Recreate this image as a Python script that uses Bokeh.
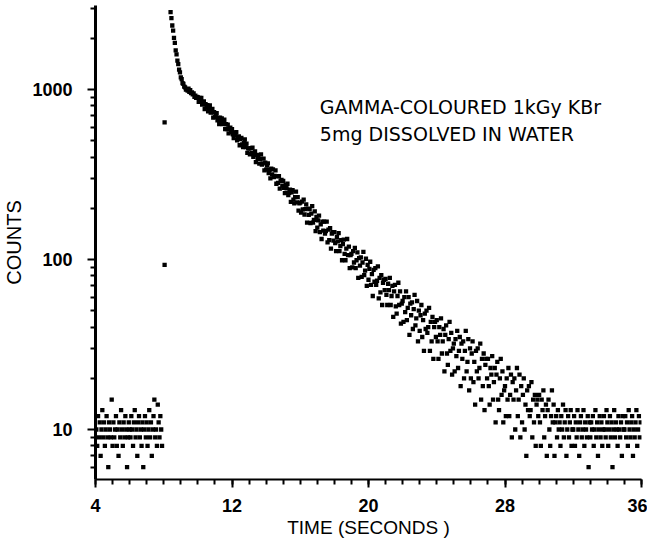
from bokeh.plotting import figure
from bokeh.models import Range1d, FixedTicker, BasicTickFormatter, Label
from bokeh.embed import file_html
from bokeh.resources import INLINE

# ---------------- data ----------------
channel_width = 0.05          # seconds per scaler channel

# background before the flash, channels from 4.05 s
pre_start = 4.05
pre_counts = [
    10, 8, 12, 9, 11, 7, 10, 13, 9, 11, 8, 10, 12, 9, 6, 11, 10, 9, 15, 8,
    11, 9, 10, 12, 8, 10, 7, 11, 9, 13, 10, 8, 11, 9, 12, 10, 6, 9, 11, 10,
    9, 12, 10, 8, 11, 13, 9, 10, 7, 11, 12, 9, 10, 8, 11, 6, 10, 12, 9, 11,
    8, 10, 13, 9, 11, 7, 10, 12, 15, 9, 10, 8, 14, 11, 9, 12, 10, 8,
]

# two isolated points at the flash
flash_times = [8.05, 8.05]
flash_counts = [640, 93]

# afterglow decay, channels from 8.40 s
decay_start = 8.40
decay_counts = [
    2850, 2630, 2380, 2220, 2010, 1880, 1700, 1610, 1480, 1410, 1310, 1260, 1180, 1150, 1090, 1080, 1040, 1030, 1000,
    1005, 985, 1010, 968, 990, 952, 960, 938, 949, 905, 921, 893, 905,
    898, 846, 892, 849, 892, 815, 833, 852, 766, 819, 787, 809, 744, 777, 807, 732, 737, 768, 684, 735,
    688, 712, 727, 659, 681, 626, 683, 646, 676, 626, 631, 664, 585, 625, 585, 621, 552, 592, 596, 564,
    584, 545, 518, 556, 539, 562, 503, 515, 529, 470, 510, 519, 475, 458, 484, 508, 459, 480, 424, 450,
    451, 416, 451, 422, 455, 402, 417, 433, 374, 413, 393, 410, 366, 391, 415, 362, 368, 392, 334, 371,
    338, 357, 368, 322, 337, 300, 342, 317, 339, 305, 310, 334, 279, 308, 282, 309, 261, 290, 294, 272,
    290, 264, 246, 274, 262, 279, 239, 247, 258, 218, 248, 256, 225, 214, 233, 251, 217, 233, 194, 214,
    216, 189, 219, 197, 225, 184, 198, 211, 165, 199, 183, 198, 164, 186, 206, 165, 171, 192, 147, 178,
    154, 170, 181, 145, 161, 132, 167, 148, 167, 142, 147, 167, 126, 150, 130, 153, 116, 142, 145, 129,
    145, 125, 112, 136, 128, 143, 112, 120, 130, 99, 123, 131, 108, 99, 116, 132, 106, 119, 89, 106,
    108, 90, 112, 96, 117, 89, 99, 110, 78, 102, 92, 103, 79, 96, 111, 81, 86, 101, 70, 93,
    76, 88, 97, 71, 82, 61, 87, 74, 89, 71, 75, 91, 59, 78, 64, 81, 54, 73, 76, 66,
    77, 62, 54, 72, 66, 78, 54, 61, 70, 46, 65, 71, 53, 48, 61, 73, 54, 65, 42, 55,
    57, 43, 60, 49, 65, 44, 52, 60, 36, 55, 47, 56, 39, 51, 62, 41, 45, 57, 33, 50,
    38, 47, 54, 35, 44, 29, 48, 39, 50, 37, 40, 52, 29, 43, 33, 46, 26, 40, 43, 35,
    44, 33, 26, 40, 36, 45, 28, 33, 39, 22, 36, 41, 28, 24, 34, 43, 29, 37, 21, 30,
    32, 22, 34, 27, 38, 23, 29, 35, 18, 32, 26, 33, 20, 29, 38, 22, 25, 34, 17, 30,
    20, 28, 33, 19, 25, 14, 29, 22, 30, 20, 23, 32, 15, 26, 18, 28, 13, 24, 26, 20,
    26, 18, 14, 23, 21, 27, 15, 19, 23, 11, 21, 25, 15, 13, 20, 26, 16, 22, 11, 17,
    18, 12, 20, 15, 23, 12, 16, 21, 9, 19, 15, 20, 10, 17, 23, 12, 15, 21, 9, 18,
    11, 16, 20, 10, 14, 7, 17, 13, 18, 12, 13, 19, 9, 15, 11, 16, 8, 14, 15, 12,
    16, 11, 8, 15, 13, 17, 9, 12, 14, 7, 13, 15, 10, 8, 12, 17, 11, 14, 7, 11,
    12, 9, 13, 10, 11, 8, 12, 10, 14, 9, 11, 13, 7, 10, 12, 9, 11, 13, 8, 10,
    10, 12, 8, 11, 9, 13, 10, 7, 11, 12, 9, 10, 13, 8, 11, 10, 9, 12, 6, 11,
    9, 11, 10, 12, 8, 10, 13, 9, 11, 7, 10, 12, 9, 11, 8, 10, 12, 10, 9, 13,
    11, 8, 10, 12, 9, 11, 6, 10, 13, 9, 11, 10, 8, 12, 10, 9, 11, 7, 12, 10,
    10, 12, 9, 11, 8, 13, 10, 9, 11, 12, 7, 10, 9, 11, 13, 8, 10, 12, 9, 11,
]

x_major = [4, 12, 20, 28, 36]
x_minor = list(range(4, 37))
y_major = [10, 100, 1000]
y_minor = [6, 7, 8, 9, 20, 30, 40, 50, 60, 70, 80, 90,
           200, 300, 400, 500, 600, 700, 800, 900, 2000, 3000]

note_lines = ["GAMMA-COLOURED 1kGy KBr", "5mg DISSOLVED IN WATER"]
note_x = 17.15
note_y = [790, 544]

x_title = "TIME (SECONDS )"
y_title = "COUNTS"

# ---------------- figure ----------------
pre_t = [pre_start + i * channel_width for i in range(len(pre_counts))]
decay_t = [decay_start + i * channel_width for i in range(len(decay_counts))]

FONT = "Liberation Sans"

p = figure(width=647, height=550,
           x_range=Range1d(4, 36), y_range=Range1d(5.08, 3120),
           y_axis_type="log",
           output_backend="svg", toolbar_location=None,
           min_border_left=92, min_border_right=6,
           min_border_top=5, min_border_bottom=71)
p.outline_line_color = None
p.grid.visible = False
p.background_fill_color = "white"
p.border_fill_color = "white"

dot = dict(marker="square", size=4.3, fill_color="black", line_color=None)
p.scatter(pre_t, pre_counts, **dot)
p.scatter(flash_times, flash_counts, **dot)
p.scatter(decay_t, decay_counts, **dot)

# axes
xa = p.xaxis[0]
xa.ticker = FixedTicker(ticks=x_major, minor_ticks=x_minor)
xa.axis_line_width = 2
xa.axis_line_color = "black"
xa.major_tick_out = 8
xa.major_tick_in = 0
xa.minor_tick_out = 5
xa.minor_tick_in = 0
xa.major_tick_line_width = 2
xa.minor_tick_line_width = 2
xa.major_tick_line_color = "black"
xa.minor_tick_line_color = "black"
xa.major_label_text_font = FONT
xa.major_label_text_font_size = "18px"
xa.major_label_text_font_style = "bold"
xa.major_label_text_color = "black"
xa.major_label_standoff = 11
xa.axis_label = x_title
xa.axis_label_text_font = FONT
xa.axis_label_text_font_size = "19px"
xa.axis_label_text_font_style = "normal"
xa.axis_label_text_color = "black"
xa.axis_label_standoff = 2

ya = p.yaxis[0]
ya.ticker = FixedTicker(ticks=y_major, minor_ticks=y_minor)
ya.formatter = BasicTickFormatter()
ya.axis_line_width = 3
ya.axis_line_color = "black"
ya.major_tick_out = 8
ya.major_tick_in = 0
ya.minor_tick_out = 5
ya.minor_tick_in = 0
ya.major_tick_line_width = 2
ya.minor_tick_line_width = 2
ya.major_tick_line_color = "black"
ya.minor_tick_line_color = "black"
ya.major_label_text_font = FONT
ya.major_label_text_font_size = "18px"
ya.major_label_text_font_style = "bold"
ya.major_label_text_color = "black"
ya.major_label_standoff = 15
ya.axis_label = y_title
ya.axis_label_text_font = FONT
ya.axis_label_text_font_size = "20px"
ya.axis_label_text_font_style = "normal"
ya.axis_label_text_color = "black"
ya.axis_label_standoff = 4

for txt, yy in zip(note_lines, note_y):
    p.add_layout(Label(x=note_x, y=yy, text=txt, text_font="DejaVu Sans",
                       text_font_size="19px", text_color="black",
                       text_baseline="alphabetic", text_align="left"))

open("out.html", "w").write(file_html(p, INLINE))
